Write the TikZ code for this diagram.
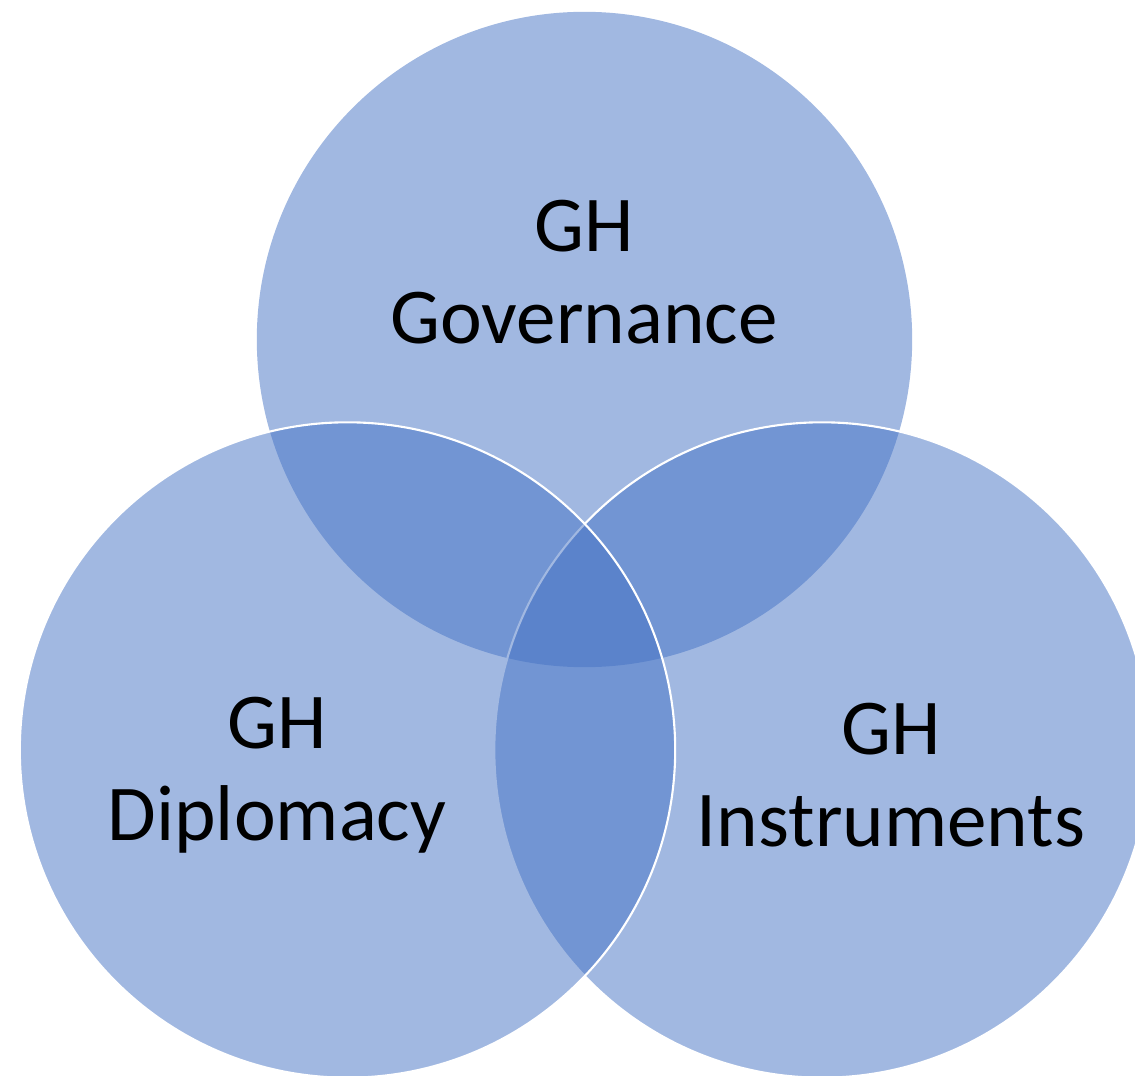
\documentclass[tikz,border=0pt]{standalone}
\usepackage{fontspec}
\setmainfont{Carlito}
\definecolor{vennblue}{HTML}{4472C4}

\begin{document}
\begin{tikzpicture}[x=0.01cm, y=-0.01cm,
    venn/.style={fill=vennblue, fill opacity=0.5},
    rim/.style={draw=white, line width=0.6pt},
    lbl/.style={align=center, text=black, font=\fontsize{22.5}{26.3}\selectfont}]
    \useasboundingbox (0,0) rectangle (1135,1076);
    % the three sets
    \fill[venn] (584.5,339.5) circle[radius=3.275cm];
    \filldraw[venn,rim] (822,750) circle[radius=3.275cm];
    \filldraw[venn,rim] (347.5,750) circle[radius=3.275cm];
    % labels
    \node[lbl] (gov) at (584,272) {GH\\Governance};
    \node[lbl] (dip) at (277,775) {GH\\Diplomacy};
    \node[lbl] (ins) at (891,775) {GH\\Instruments};
\end{tikzpicture}
\end{document}
